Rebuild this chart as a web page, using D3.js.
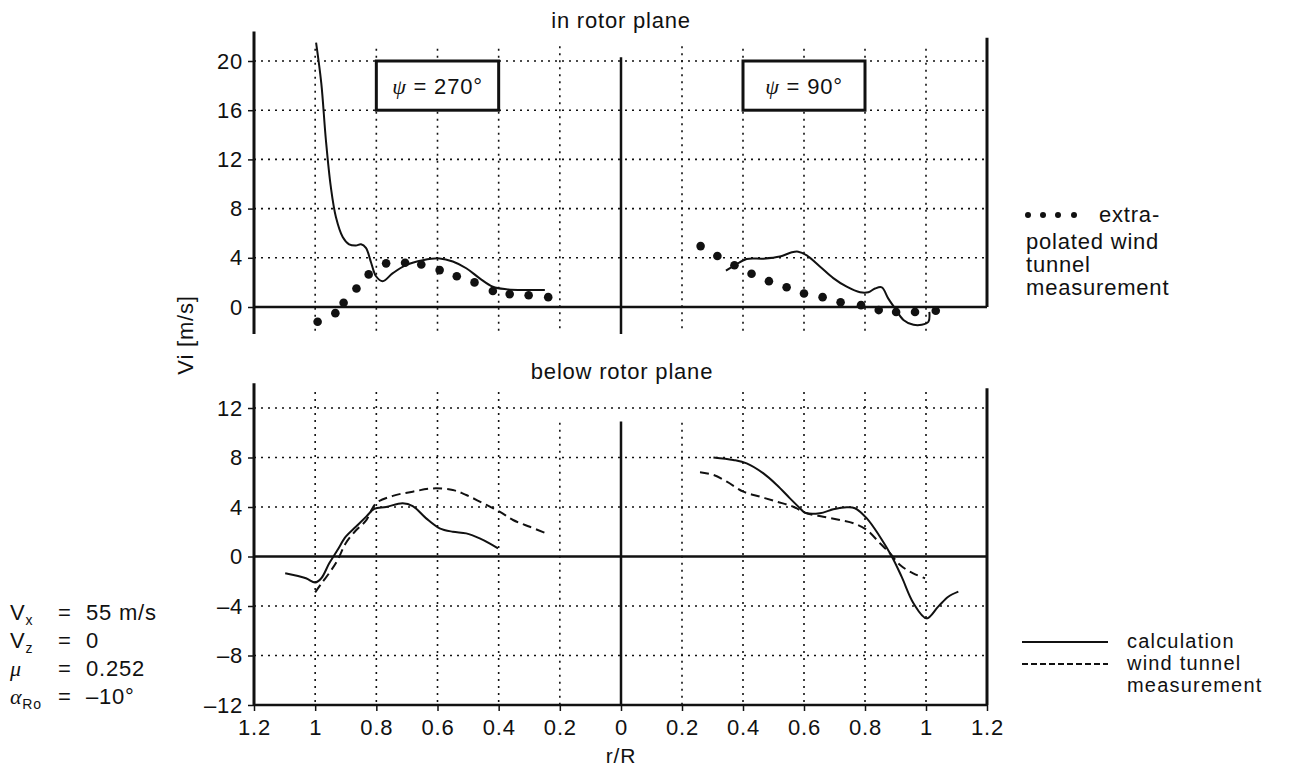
<!DOCTYPE html>
<html>
<head>
<meta charset="utf-8">
<script src="https://cdn.jsdelivr.net/npm/d3@7"></script>
<style>
  body { margin: 0; background: #fff; }
  svg text { font-family: "Liberation Sans", Arial, Helvetica, sans-serif; fill: #111; letter-spacing: 0.8px; }
</style>
</head>
<body>
<svg id="chart" width="1297" height="769"></svg>
<script>
// ---- data: induced velocity Vi [m/s] over radial station r/R ----
// azimuth 270° (retreating side, r/R runs right-to-left) and 90° (advancing side)

// in rotor plane
const calc270Top = [[0.997,21.5],[0.98,18.2],[0.965,13.6],[0.949,9.8],[0.932,7.3],[0.91,5.7],[0.889,5.1],
  [0.867,5.0],[0.85,5.1],[0.834,4.8],[0.817,3.6],[0.801,2.5],[0.779,2.1],[0.746,2.75],[0.703,3.4],
  [0.648,3.8],[0.593,3.95],[0.55,3.7],[0.506,3.15],[0.462,2.33],[0.419,1.65],[0.375,1.44],[0.309,1.38],[0.249,1.38]];
const meas270Top = [[0.992,-1.2],[0.934,-0.5],[0.907,0.35],[0.865,1.5],[0.825,2.65],[0.768,3.55],[0.706,3.6],
  [0.653,3.45],[0.593,3.0],[0.537,2.5],[0.479,2.0],[0.419,1.3],[0.364,1.05],[0.302,0.95],[0.238,0.8]];
const calc90Top = [[0.344,2.95],[0.374,3.4],[0.412,3.9],[0.467,3.93],[0.521,4.1],[0.56,4.45],[0.581,4.5],
  [0.609,4.2],[0.652,3.3],[0.696,2.35],[0.74,1.65],[0.784,1.2],[0.811,1.2],[0.833,1.5],[0.855,1.6],
  [0.876,0.7],[0.898,-0.1],[0.926,-1.05],[0.959,-1.45],[0.986,-1.45],[1.008,-1.2],[1.011,-0.4]];
const meas90Top = [[0.261,4.95],[0.316,4.15],[0.372,3.4],[0.428,2.7],[0.485,2.1],[0.543,1.6],[0.6,1.1],
  [0.661,0.8],[0.72,0.38],[0.787,0.15],[0.845,-0.25],[0.902,-0.4],[0.964,-0.4],[1.032,-0.3]];

// below rotor plane
const calc270Bot = [[1.098,-1.36],[1.03,-1.76],[1.0,-2.1],[0.98,-1.76],[0.954,-0.55],[0.927,0.52],[0.9,1.6],
  [0.867,2.4],[0.834,3.2],[0.807,3.84],[0.768,4.0],[0.714,4.3],[0.681,4.08],[0.637,3.08],[0.593,2.28],
  [0.55,2.0],[0.506,1.87],[0.462,1.47],[0.43,1.07],[0.402,0.66]];
const wt270Bot = [[1.0,-2.9],[0.98,-2.2],[0.95,-1.2],[0.927,-0.3],[0.9,1.07],[0.867,2.1],[0.834,2.9],
  [0.801,4.3],[0.746,4.9],[0.681,5.24],[0.616,5.5],[0.55,5.37],[0.506,4.97],[0.451,4.3],[0.397,3.62],
  [0.353,2.95],[0.298,2.4],[0.244,1.87]];
const calc90Bot = [[0.303,8.0],[0.368,7.8],[0.412,7.53],[0.467,6.72],[0.511,5.78],[0.554,4.7],[0.587,3.9],
  [0.603,3.54],[0.652,3.49],[0.696,3.81],[0.74,3.97],[0.767,3.9],[0.806,3.08],[0.849,1.6],[0.888,0],
  [0.92,-1.63],[0.959,-3.78],[1.002,-5.0],[1.04,-4.05],[1.073,-3.25],[1.106,-2.84]];
const wt90Bot = [[0.259,6.8],[0.303,6.59],[0.347,6.05],[0.401,5.24],[0.456,4.83],[0.511,4.43],[0.565,4.02],
  [0.609,3.49],[0.663,3.22],[0.718,2.95],[0.763,2.68],[0.806,2.14],[0.849,1.07],[0.882,0.26],
  [0.915,-0.69],[0.958,-1.36],[0.997,-1.76]];

// ticks
const radialTicks = [1.2, 1, 0.8, 0.6, 0.4, 0.2, 0];
const gridRadii = [1, 0.8, 0.6, 0.4, 0.2];
const topTicks = [0, 4, 8, 12, 16, 20];
const bottomTicks = [-12, -8, -4, 0, 4, 8, 12];
const paramLines = [
  {sym: "V", sub: "x", italic: false, val: "55 m/s"},
  {sym: "V", sub: "z", italic: false, val: "0"},
  {sym: "μ", sub: "", italic: true, val: "0.252"},
  {sym: "α", sub: "Ro", italic: true, val: "–10°"}
];

// ---- scales ----
const xL = d3.scaleLinear().domain([1.2, 0]).range([254, 621]);
const xR = d3.scaleLinear().domain([0, 1.2]).range([621, 987]);
const yTop = d3.scaleLinear().domain([0, 20]).range([307, 61]);
const yBot = d3.scaleLinear().domain([-12, 12]).range([705, 408]);

const svg = d3.select("#chart");
const FS = 22;
const fmt = d => d < 0 ? "–" + (-d) : String(d);

function seg(x1, y1, x2, y2, w, dash) {
  const l = svg.append("line").attr("x1", x1).attr("y1", y1).attr("x2", x2).attr("y2", y2)
    .attr("stroke", "#111").attr("stroke-width", w);
  if (dash) l.attr("stroke-dasharray", dash);
  return l;
}

// ---- dotted grids ----
const dots = "2,5";
function grid(yS, hTicks, vTop, vBottom, vTopInner) {
  hTicks.filter(t => t !== 0 && t !== -12).forEach(t => seg(254, yS(t), 987, yS(t), 1.6, dots));
  gridRadii.forEach(r => {
    const top = r === 0.2 ? vTopInner : vTop;
    seg(xL(r), yS(top), xL(r), yS(vBottom), 1.6, dots);
    seg(xR(r), yS(top), xR(r), yS(vBottom), 1.6, dots);
  });
}
grid(yTop, topTicks, 21, -2, 21.2);
grid(yBot, bottomTicks, 13.3, -12, 10.8);

// ---- frames ----
// top panel
seg(254, yTop(22.4), 254, yTop(-2.2), 3);
seg(621, yTop(20.3), 621, yTop(-2.2), 2.5);
seg(987, yTop(21.9), 987, yTop(0), 3);
seg(254, yTop(0), 987, yTop(0), 2.6);
// bottom panel
seg(254, yBot(14), 254, yBot(-12), 3);
seg(621, yBot(10.9), 621, yBot(-12), 2.5);
seg(987, yBot(13.6), 987, yBot(-12), 3);
seg(254, yBot(0), 987, yBot(0), 2.6);
seg(254, yBot(-12), 987, yBot(-12), 2.6);

// ---- y axes ----
function yAxis(scale, ticks) {
  const g = svg.append("g").attr("transform", "translate(254,0)")
    .call(d3.axisLeft(scale).tickValues(ticks).tickSize(6).tickPadding(5).tickFormat(fmt));
  g.select(".domain").remove();
  g.selectAll(".tick line").attr("stroke", "#111").attr("stroke-width", 1.5);
  g.selectAll(".tick text").attr("font-size", FS).attr("fill", "#111")
    .attr("font-family", "Liberation Sans, Arial, sans-serif");
}
yAxis(yTop, topTicks);
yAxis(yBot, bottomTicks);

// ---- x axes ----
function xAxis(scale, ticks) {
  const g = svg.append("g").attr("transform", `translate(0,${yBot(-12)})`)
    .call(d3.axisBottom(scale).tickValues(ticks).tickSize(6).tickPadding(8).tickFormat(d => String(d)));
  g.select(".domain").remove();
  g.selectAll(".tick line").attr("stroke", "#111").attr("stroke-width", 1.5);
  g.selectAll(".tick text").attr("font-size", FS).attr("fill", "#111")
    .attr("font-family", "Liberation Sans, Arial, sans-serif");
}
xAxis(xL, radialTicks);
xAxis(xR, radialTicks.filter(d => d !== 0));

// ---- curves ----
const curve = d3.curveCatmullRom.alpha(0.5);
function drawLine(data, xs, ys, dash) {
  const p = svg.append("path").datum(data)
    .attr("d", d3.line().x(d => xs(d[0])).y(d => ys(d[1])).curve(curve))
    .attr("fill", "none").attr("stroke", "#111").attr("stroke-width", 2)
    .attr("stroke-linejoin", "round");
  if (dash) p.attr("stroke-dasharray", dash);
}
function drawDots(data, xs, ys) {
  svg.append("g").selectAll("circle").data(data).join("circle")
    .attr("cx", d => xs(d[0])).attr("cy", d => ys(d[1])).attr("r", 4.3).attr("fill", "#111");
}
drawLine(calc270Top, xL, yTop);
drawDots(meas270Top, xL, yTop);
drawLine(calc90Top, xR, yTop);
drawDots(meas90Top, xR, yTop);
drawLine(calc270Bot, xL, yBot);
drawLine(wt270Bot, xL, yBot, "9,5");
drawLine(calc90Bot, xR, yBot);
drawLine(wt90Bot, xR, yBot, "9,5");

// ---- azimuth boxes ----
function azBox(xs, label) {
  const x0 = xs(0.8), x1 = xs(0.4);
  const left = Math.min(x0, x1), w = Math.abs(x1 - x0);
  svg.append("rect").attr("x", left).attr("y", yTop(20)).attr("width", w).attr("height", yTop(16) - yTop(20))
    .attr("fill", "#fff").attr("stroke", "#111").attr("stroke-width", 3);
  const t = svg.append("text").attr("x", left + w / 2).attr("y", (yTop(20) + yTop(16)) / 2 + 8)
    .attr("text-anchor", "middle").attr("font-size", FS);
  t.append("tspan").attr("font-style", "italic").attr("font-family", "Liberation Serif, Times, serif").text("ψ");
  t.append("tspan").text(" = " + label);
}
azBox(xL, "270°");
azBox(xR, "90°");

// ---- titles ----
svg.append("text").attr("x", 621).attr("y", 28).attr("text-anchor", "middle").attr("font-size", FS).text("in rotor plane");
svg.append("text").attr("x", 622).attr("y", 379).attr("text-anchor", "middle").attr("font-size", FS).text("below rotor plane");
svg.append("text").attr("transform", "translate(193,335) rotate(-90)").attr("text-anchor", "middle")
  .attr("font-size", FS).text("Vi [m/s]");
svg.append("text").attr("x", 621).attr("y", 763).attr("text-anchor", "middle").attr("font-size", 21).text("r/R");

// ---- legends ----
[1028, 1043, 1058, 1074].forEach(x => svg.append("circle").attr("cx", x).attr("cy", 215).attr("r", 3).attr("fill", "#111"));
svg.append("text").attr("x", 1099).attr("y", 222).attr("font-size", FS).text("extra-");
["polated wind", "tunnel", "measurement"].forEach((s, i) =>
  svg.append("text").attr("x", 1026).attr("y", 249 + i * 23).attr("font-size", FS).text(s));

seg(1022, 642, 1108, 642, 2);
seg(1022, 664, 1108, 664, 2, "6,3");
const LFS = 20;
[["calculation", 648], ["wind tunnel", 670], ["measurement", 692]].forEach(([s, y]) =>
  svg.append("text").attr("x", 1127).attr("y", y).attr("font-size", LFS)
    .style("letter-spacing", "1.2px").text(s));

// ---- flight condition ----
paramLines.forEach((p, i) => {
  const y = 620 + i * 28;
  const t = svg.append("text").attr("x", 10).attr("y", y).attr("font-size", FS);
  const s = t.append("tspan").text(p.sym);
  if (p.italic) s.attr("font-style", "italic").attr("font-family", "Liberation Serif, Times, serif");
  if (p.sub) t.append("tspan").attr("font-size", 14).attr("dy", 5).text(p.sub);
  svg.append("text").attr("x", 58).attr("y", y).attr("font-size", FS).text("=");
  svg.append("text").attr("x", 86).attr("y", y).attr("font-size", FS).text(p.val);
});
</script>
</body>
</html>
